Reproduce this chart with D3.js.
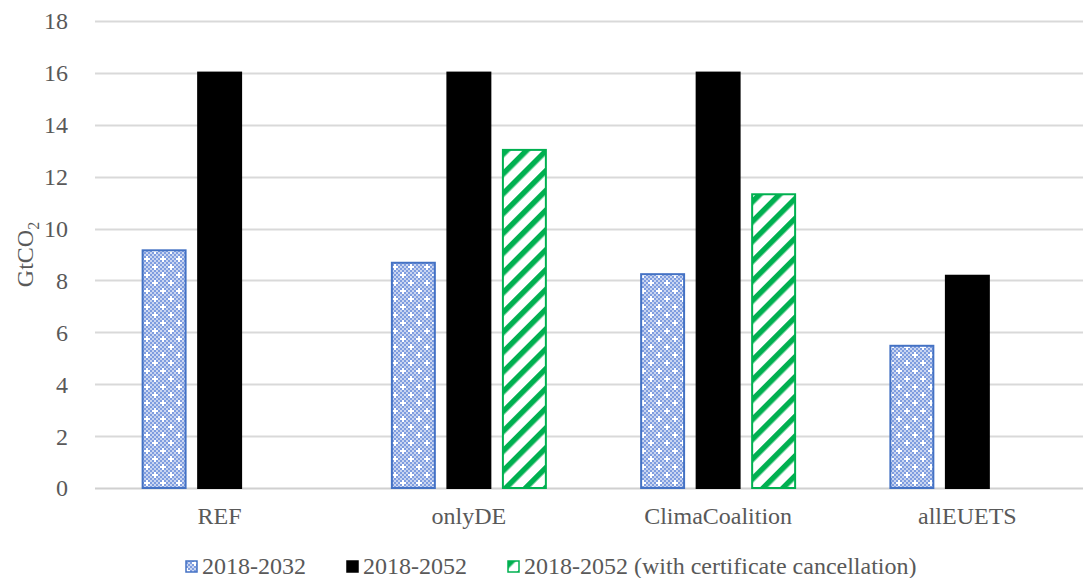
<!DOCTYPE html>
<html>
<head>
<meta charset="utf-8">
<script src="https://cdn.jsdelivr.net/npm/d3@7"></script>
<style>
  body { margin: 0; background: #fff; }
  text { font-family: "Liberation Serif", "Times New Roman", serif; fill: #595959; }
</style>
</head>
<body>
<div id="chart"></div>
<script>
const categories = ['REF', 'onlyDE', 'ClimaCoalition', 'allEUETS']
const seriesNames = ['2018-2032', '2018-2052', '2018-2052 (with certificate cancellation)']
const v2032 = [9.2, 8.72, 8.28, 5.52]
const v2052 = [16.05, 16.05, 16.05, 8.22]
const vCancel = [null, 13.07, 11.36, null]
const yTicks = [0, 2, 4, 6, 8, 10, 12, 14, 16, 18]

const width = 1083
const height = 578
const margin = { left: 95, right: -9, top: 21, bottom: 90 }

const svg = d3.select('#chart').append('svg')
  .attr('width', width)
  .attr('height', height)

const defs = svg.append('defs')

// dotted blue pattern
const pBlue = defs.append('pattern')
  .attr('id', 'pBlue')
  .attr('patternUnits', 'userSpaceOnUse')
  .attr('width', 16).attr('height', 16)
pBlue.append('rect').attr('width', 16).attr('height', 16).attr('fill', '#c9d5f1')
for (let i = 0; i < 16; i += 2) {
  for (let j = 0; j < 16; j += 2) {
    if ((i + j) % 4 === 0) {
      pBlue.append('rect').attr('x', i).attr('y', j).attr('width', 2).attr('height', 2).attr('fill', '#7f9ddf')
    }
  }
}
;[[3, 3], [11, 11]].forEach(([cx, cy]) => {
  pBlue.append('rect').attr('x', cx - 1).attr('y', cy - 3).attr('width', 2).attr('height', 6).attr('fill', '#fff')
  pBlue.append('rect').attr('x', cx - 3).attr('y', cy - 1).attr('width', 6).attr('height', 2).attr('fill', '#fff')
})

// green diagonal stripes
const pGreen = defs.append('pattern')
  .attr('id', 'pGreen')
  .attr('patternUnits', 'userSpaceOnUse')
  .attr('width', 14).attr('height', 14)
  .attr('patternTransform', 'rotate(45)')
pGreen.append('rect').attr('width', 14).attr('height', 14).attr('fill', '#fff')
pGreen.append('rect').attr('x', 0).attr('width', 5.5).attr('height', 14).attr('fill', '#00b050')

const x0 = d3.scaleBand()
  .domain(categories)
  .range([margin.left, width - margin.right])

const y = d3.scaleLinear()
  .domain([0, 18])
  .range([height - margin.bottom, margin.top])

const x1 = d3.scaleBand()
  .domain(d3.range(3))
  .range([0, x0.bandwidth()])
  .paddingInner(0.19)
  .paddingOuter(0.84)

// gridlines
svg.append('g')
  .selectAll('line')
  .data(yTicks)
  .join('line')
  .attr('x1', margin.left)
  .attr('x2', width)
  .attr('y1', d => Math.round(y(d)) + 0.5)
  .attr('y2', d => Math.round(y(d)) + 0.5)
  .attr('stroke', d => d === 0 ? '#d0d0d0' : '#d9d9d9')
  .attr('stroke-width', 2)

// y tick labels
svg.append('g')
  .selectAll('text')
  .data(yTicks)
  .join('text')
  .attr('x', 68)
  .attr('y', d => y(d))
  .attr('dy', '0.35em')
  .attr('text-anchor', 'end')
  .style('font-size', '24px')
  .text(d => d)

// y axis title
const yTitle = svg.append('text')
  .attr('transform', `translate(33, ${y(9)}) rotate(-90)`)
  .attr('text-anchor', 'middle')
  .style('font-size', '24px')
yTitle.append('tspan').text('GtCO')
yTitle.append('tspan').text('2').attr('dy', 6).style('font-size', '16px')

// bars
const series = [
  { values: v2032, fill: 'url(#pBlue)', stroke: '#4472c4' },
  { values: v2052, fill: '#000', stroke: '#000' },
  { values: vCancel, fill: 'url(#pGreen)', stroke: '#00b050' }
]

series.forEach((s, si) => {
  svg.append('g')
    .selectAll('rect')
    .data(categories.map((c, i) => ({ c, v: s.values[i] })).filter(d => d.v != null))
    .join('rect')
    .attr('x', d => x0(d.c) + x1(si) + 1)
    .attr('width', x1.bandwidth() - 2)
    .attr('y', d => y(d.v) + 1)
    .attr('height', d => y(0) - y(d.v) - 1)
    .attr('fill', s.fill)
    .attr('stroke', s.stroke)
    .attr('stroke-width', 2)
})

// category labels
svg.append('g')
  .selectAll('text')
  .data(categories)
  .join('text')
  .attr('x', d => x0(d) + x0.bandwidth() / 2)
  .attr('y', 524)
  .attr('text-anchor', 'middle')
  .style('font-size', '24px')
  .text(d => d)

// legend
const legendX = [185, 346, 507]
const legend = svg.append('g')
seriesNames.forEach((name, i) => {
  legend.append('rect')
    .attr('x', legendX[i] + 1)
    .attr('y', 561)
    .attr('width', 11)
    .attr('height', 11)
    .attr('fill', series[i].fill)
    .attr('stroke', series[i].stroke)
    .attr('stroke-width', 1.5)
  legend.append('text')
    .attr('x', legendX[i] + 17)
    .attr('y', 574)
    .style('font-size', '24px')
    .text(name)
})
</script>
</body>
</html>
